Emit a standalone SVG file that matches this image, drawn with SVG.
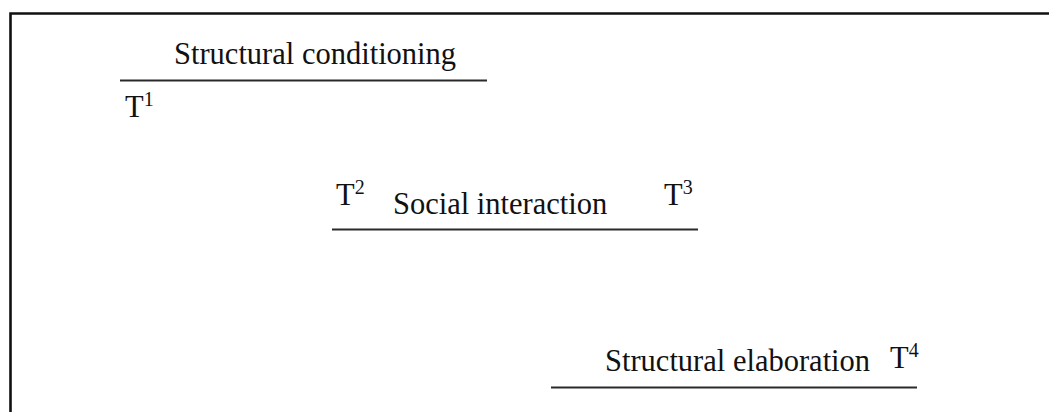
<svg xmlns="http://www.w3.org/2000/svg" width="1049" height="412" viewBox="0 0 1049 412">
<style>
.t{font-family:"Liberation Serif","Times New Roman",serif;font-size:30.5px;fill:#111}
.sup{font-size:20px}
.rule{stroke:#2a2a2a;stroke-width:1.9;fill:none}
.frame{stroke:#111;stroke-width:2.6;fill:none}
</style>
<rect width="1049" height="412" fill="#fff"/>
<g id="frame"><path class="frame" d="M10.5 412 V13.5 H1049"/></g>
<g id="connectors">
<line class="rule" x1="120" y1="80.5" x2="487" y2="80.5"/>
<line class="rule" x1="332" y1="229.5" x2="698" y2="229.5"/>
<line class="rule" x1="551" y1="387.5" x2="917" y2="387.5"/>
</g>
<g id="structural-conditioning">
<text class="t" x="174" y="64">Structural conditioning</text>
<text class="t" x="125" y="117">T<tspan class="sup" dy="-11">1</tspan></text>
</g>
<g id="social-interaction">
<text class="t" x="336" y="205">T<tspan class="sup" dy="-11">2</tspan></text>
<text class="t" x="393" y="214">Social interaction</text>
<text class="t" x="664" y="205">T<tspan class="sup" dy="-11">3</tspan></text>
</g>
<g id="structural-elaboration">
<text class="t" x="605" y="371">Structural elaboration</text>
<text class="t" x="890" y="368">T<tspan class="sup" dy="-11">4</tspan></text>
</g>
</svg>
